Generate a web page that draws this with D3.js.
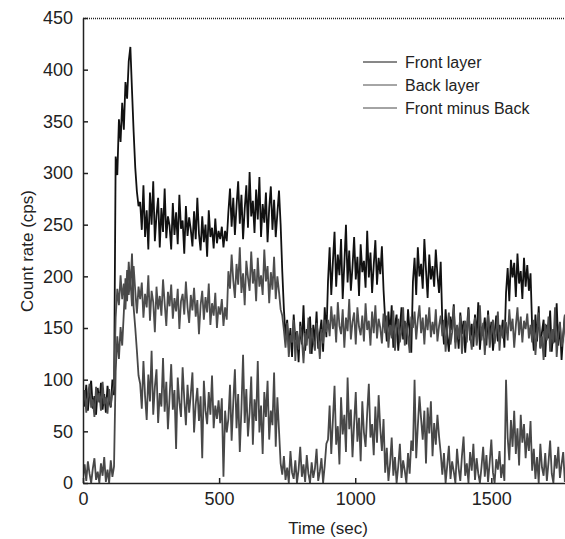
<!DOCTYPE html>
<html>
<head>
<meta charset="utf-8">
<script src="https://cdn.jsdelivr.net/npm/d3@7"></script>
<style>
  body { margin: 0; background: #fff; }
  svg { display: block; font-family: "Liberation Sans", Arial, sans-serif; }
</style>
</head>
<body>
<svg id="chart"></svg>
<script>
const ink = "#222";

// sample spacing of the traces (sec)
const sampleStep = 6;

const frontLayer = [
  82, 74, 95, 70, 88, 99, 72, 84, 66, 92, 78, 97, 71, 86, 68, 94, 80, 73, 100, 85,
  316, 298, 352, 330, 368, 342, 388, 372, 408, 422, 380, 340, 305, 282, 268,
  272, 245, 288, 238, 264, 226, 281, 250, 292, 234, 259, 276, 228, 266, 243, 285, 237, 258, 249, 226,
  271, 240, 262, 231, 279, 246, 254, 222, 268, 239, 257, 245, 229, 263, 236, 276, 241, 225, 258, 233,
  250, 219, 264, 238, 247, 227, 256, 232, 244,
  236, 248, 228, 244, 234,
  262, 285, 248, 276, 240, 268, 292, 251, 279, 236, 265, 288, 247, 301, 258, 273, 242, 284, 255, 296,
  238, 270, 252, 281, 233, 266, 287, 245, 274, 238, 261, 283, 250,
  205, 168, 142, 158, 131, 150, 122, 163, 138, 147, 117, 156, 134, 172, 128, 149, 140, 161, 125, 153,
  136, 166, 130, 145, 158, 127, 170, 141,
  195, 228, 182, 214, 243, 190, 221, 201, 236, 178, 212, 250, 194, 225, 186, 209, 238, 197, 219, 181,
  231, 204, 215, 189, 244, 199, 223, 184, 211, 235, 192, 218, 202, 229, 187,
  158, 137, 166, 144, 172, 131, 153, 163, 128, 149, 170, 139, 157, 134, 168, 146, 126,
  195, 218, 182, 228, 200, 212, 188, 236, 206, 179, 221, 197, 210, 190, 226, 201, 184, 214,
  155, 134, 168, 142, 127, 161, 148, 173, 136, 152, 130, 165, 144, 157, 126, 149, 170, 138, 154, 132,
  163, 141, 175, 129, 151, 146, 160, 133, 167, 139, 156, 128, 145, 162, 137, 153, 143, 158, 131,
  184, 208, 176, 216, 199, 213, 180, 222, 193, 205, 178, 218, 190, 211, 186, 203,
  150, 128, 163, 137, 171, 131, 146, 158, 122, 153, 140, 167, 127, 149, 136, 174, 133, 155, 119, 144,
  162, 130, 151, 138, 168, 125
];

const backLayer = [
  77, 90, 68, 85, 96, 73, 81, 64, 93, 79, 87, 70, 98, 76, 83, 67, 91, 74, 88, 95,
  160, 188, 172, 201, 178, 193, 168, 206, 182, 198, 171, 210, 186, 164, 190,
  178, 194, 160, 183, 170, 201, 157, 186, 175, 146, 190, 168, 181, 162, 197, 174, 152, 185, 171, 192,
  159, 179, 166, 188, 149, 176, 183, 163, 195, 170, 155, 182, 167, 189, 161, 177, 144, 172, 186, 158,
  180, 165, 193, 153, 174, 162, 184, 150, 171,
  163, 178, 152, 170, 158,
  205, 188, 221, 196, 179, 212, 192, 228, 184, 203, 172, 215, 199, 186, 224, 193, 207, 176, 218, 190,
  201, 182, 226, 195, 210, 174, 204, 187, 219, 178, 200, 185, 168,
  162, 148, 131, 155, 122, 143, 136, 158, 118, 147, 129, 152, 140, 116, 145, 133, 160, 125, 150, 138,
  128, 155, 142, 120, 149, 135, 158, 146,
  158, 142, 171, 149, 163, 136, 175, 152, 144, 168, 131, 160, 147, 178, 139, 156, 165, 134, 170, 151,
  143, 162, 137, 174, 148, 157, 133, 166, 145, 172, 140, 159, 150, 135, 164,
  145, 162, 131, 153, 140, 167, 128, 150, 159, 136, 147, 170, 133, 155, 142, 126, 161,
  150, 166, 139, 158, 172, 145, 160, 134, 163, 148, 170, 141, 156, 144, 168, 137, 152, 162,
  142, 158, 127, 150, 165, 134, 146, 171, 130, 153, 139, 162, 125, 148, 157, 136, 168, 143, 129, 151,
  160, 133, 145, 172, 138, 155, 124, 149, 163, 131, 147, 158, 135, 144, 166, 128, 152, 140, 156,
  155, 138, 168, 147, 159, 131, 152, 170, 143, 161, 136, 157, 149, 164, 140, 153,
  136, 158, 124, 147, 165, 130, 142, 119, 154, 138, 161, 127, 149, 135, 170, 122, 145, 156, 132, 141,
  163, 118, 150, 137, 128, 159
];

const frontMinusBack = [
  5, 18, 2, 21, 9, 0, 14, 24, 3, 11, 0, 19, 7, 25, 1, 13, 0, 22, 6, 16,
  108, 142, 120, 151, 133, 165, 198, 176, 214, 188, 222, 170, 150, 128, 104,
  96, 72, 118, 84, 61, 105, 79, 128, 66, 93, 110, 58, 87, 74, 121, 69, 98, 52, 83, 115,
  71, 90, 33, 102, 78, 64, 112, 81, 56, 95, 68, 86, 107, 49, 76, 92, 60, 84, 24, 99,
  70, 57, 88, 66, 104, 53, 75, 62, 80,
  58, 82, 6, 70, 49,
  62, 95, 41, 78, 110, 53, 86, 30, 72, 124, 58, 91, 45, 68, 103, 37, 81, 60, 118, 49,
  75, 28, 88, 64, 99, 42, 70, 56, 107, 35, 83, 51, 19,
  8, 26, 3, 15, 0, 31, 10, 4, 22, 0, 13, 35, 6, 18, 1, 27, 9, 0, 20, 5,
  14, 33, 2, 11, 24, 0, 17, 38,
  42, 75, 28, 61, 94, 37, 55, 18, 83, 47, 66, 30, 102, 52, 71, 25, 58, 88, 40, 63,
  21, 79, 49, 35, 68, 96, 44, 57, 27, 74, 39, 85, 53, 31, 62,
  10, 34, 2, 19, 44, 7, 25, 0, 16, 38, 5, 22, 12, 0, 29, 9, 41,
  31, 100, 24, 55, 84, 62, 42, 70, 19, 73, 48, 79, 26, 58, 37, 66, 45, 29,
  8, 29, 0, 17, 36, 4, 21, 11, 0, 33, 14, 2, 26, 45, 7, 19, 0, 30, 12, 38,
  3, 24, 9, 0, 16, 35, 6, 27, 1, 20, 42, 10, 0, 23, 13, 31, 5, 18, 2,
  100, 44, 22, 61, 35, 70, 28, 53, 17, 66, 39, 57, 24, 48, 31, 60,
  12, 33, 4, 25, 0, 38, 15, 7, 29, 2, 20, 41, 9, 0, 27, 14, 35, 5, 18, 30,
  1, 23, 11, 36, 6, 19
];

const seriesNames = ["Front layer", "Back layer", "Front minus Back"];
const seriesColors = ["#111111", "#4d4d4d", "#484848"];
const xTicks = [0, 500, 1000, 1500];
const yTicks = [0, 50, 100, 150, 200, 250, 300, 350, 400, 450];

const W = 565, H = 539;
const plot = { left: 83, top: 18, bottom: 483, right: 565 };

const svg = d3.select("#chart").attr("width", W).attr("height", H);

// Scales
const x = d3.scaleLinear().domain([0, 1800]).range([plot.left, 573]);
const y = d3.scaleLinear().domain([0, 450]).range([plot.bottom, plot.top]);

svg.append("clipPath").attr("id", "clip")
  .append("rect")
  .attr("x", plot.left).attr("y", plot.top - 2)
  .attr("width", plot.right - plot.left).attr("height", plot.bottom - plot.top + 2);

// Traces
const line = d3.line()
  .x(d => x(d[0]))
  .y(d => y(d[1]));

[frontLayer, backLayer, frontMinusBack].forEach((vals, k) => {
  svg.append("path")
    .datum(vals.map((v, i) => [i * sampleStep, v]))
    .attr("clip-path", "url(#clip)")
    .attr("fill", "none")
    .attr("stroke", seriesColors[k])
    .attr("stroke-width", 1.8)
    .attr("stroke-linejoin", "miter")
    .attr("d", line);
});

// Top border (dotted)
svg.append("line")
  .attr("x1", plot.left).attr("x2", plot.right)
  .attr("y1", plot.top + 0.5).attr("y2", plot.top + 0.5)
  .attr("stroke", "#222")
  .attr("stroke-width", 1.3)
  .attr("stroke-dasharray", "1,1");

// Axes
const yAxis = svg.append("g")
  .attr("transform", `translate(${plot.left},0)`)
  .call(d3.axisLeft(y).tickValues(yTicks).tickSize(-5).tickSizeOuter(0).tickPadding(10));

const xAxis = svg.append("g")
  .attr("transform", `translate(0,${plot.bottom})`)
  .call(d3.axisBottom(x).tickValues(xTicks).tickFormat(d3.format("d"))
    .tickSize(-5).tickSizeOuter(0).tickPadding(9));

[yAxis, xAxis].forEach(g => {
  g.select(".domain").attr("stroke", ink).attr("stroke-width", 1.5);
  g.selectAll(".tick line").attr("stroke", ink).attr("stroke-width", 1.5);
  g.selectAll("text").attr("fill", ink).style("font-size", "18px");
});

// Axis titles
svg.append("text")
  .attr("x", 328)
  .attr("y", 534)
  .attr("text-anchor", "middle")
  .attr("fill", ink)
  .style("font-size", "17px")
  .text("Time (sec)");

svg.append("text")
  .attr("transform", "translate(33,251) rotate(-90)")
  .attr("text-anchor", "middle")
  .attr("fill", ink)
  .style("font-size", "17px")
  .text("Count rate (cps)");

// Legend
const legend = svg.append("g").attr("transform", "translate(363,62)");

seriesNames.forEach((label, i) => {
  const g = legend.append("g").attr("transform", `translate(0,${i * 23})`);
  g.append("line")
    .attr("x1", 0).attr("x2", 34)
    .attr("stroke", seriesColors[i])
    .attr("stroke-width", 1);
  g.append("text")
    .attr("x", 42)
    .attr("y", 6)
    .attr("fill", ink)
    .style("font-size", "16px")
    .text(label);
});
</script>
</body>
</html>
